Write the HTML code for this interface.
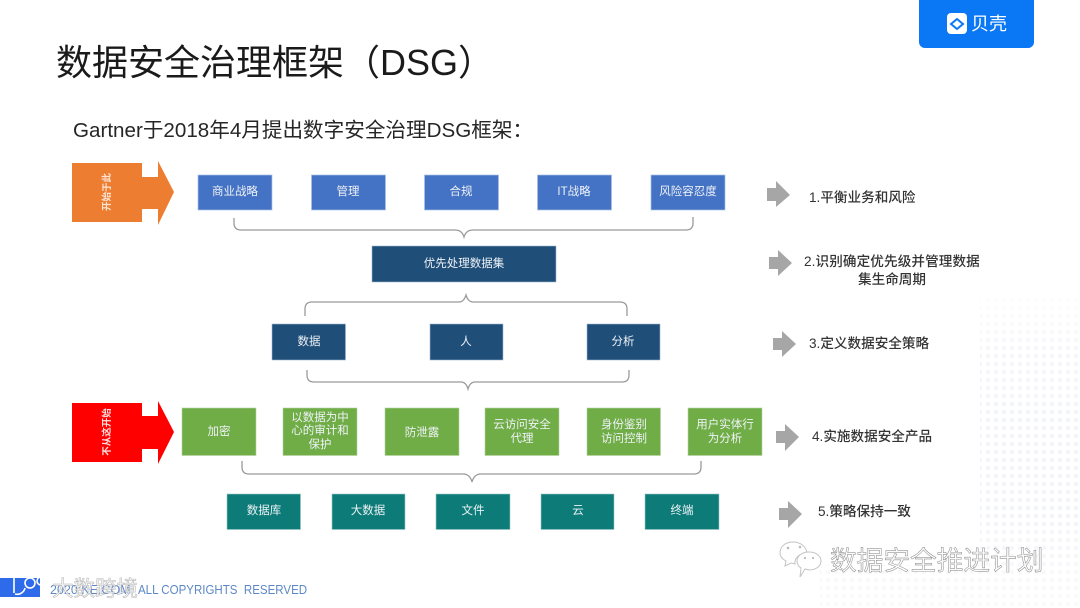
<!DOCTYPE html>
<html lang="zh"><head><meta charset="utf-8"><style>
html,body{margin:0;padding:0;background:#fff;width:1080px;height:608px;overflow:hidden}
svg{display:block}
text{font-family:"Liberation Sans","Noto Sans CJK SC",sans-serif}
.b{font-size:11.5px;fill:#eef2f6;text-anchor:middle}
.r{font-size:13.6px;fill:#333;font-weight:500}
.br{fill:none;stroke:#9a9a9a;stroke-width:1.3}
</style></head><body>
<svg width="1080" height="608" viewBox="0 0 1080 608" xmlns="http://www.w3.org/2000/svg">
<defs>
<pattern id="dots" width="8" height="8" patternUnits="userSpaceOnUse"><rect x="2" y="2" width="4" height="4" rx="1.500" fill="#eef1f5"/></pattern>
<linearGradient id="fade" x1="0" y1="0" x2="0" y2="1"><stop offset="0" stop-color="#fff" stop-opacity="0.9"/><stop offset="0.2" stop-color="#fff" stop-opacity="0.3"/><stop offset="0.7" stop-color="#fff" stop-opacity="0.2"/><stop offset="1" stop-color="#fff" stop-opacity="0.7"/></linearGradient>
</defs>
<rect width="1080" height="608" fill="#fff"/>
<polygon points="980,295 1080,295 1080,608 820,608 820,565 980,565" fill="url(#dots)"/>
<polygon points="980,295 1080,295 1080,608 820,608 820,565 980,565" fill="url(#fade)"/>

<!-- logo -->
<path d="M919 0H1034V42a6 6 0 0 1-6 6H925a6 6 0 0 1-6-6Z" fill="#0a78f5"/>
<rect x="947" y="13" width="20" height="21" rx="4" fill="#fff"/>
<path d="M951 24l6-5 6 5-6 5Z" fill="none" stroke="#0a78f5" stroke-width="2"/>
<text x="971" y="30" font-size="18" fill="#fff">贝壳</text>

<!-- titles -->
<text x="56" y="75" font-size="36" fill="#1a1a1a">数据安全治理框架（DSG）</text>
<text x="73" y="137" font-size="20.600" fill="#262626">Gartner于2018年4月提出数字安全治理DSG框架：</text>

<!-- big arrows -->
<polygon points="72,163 142,163 142,177 158,177 158,161 174,192 158,225 158,209 142,209 142,222 72,222" fill="#ed7d31"/>
<text transform="translate(110,192) rotate(-90)" font-size="9.500" font-weight="700" fill="#fbe6d6" text-anchor="middle">开始于此</text>
<polygon points="72,403 142,403 142,416 158,416 158,401 174,432 158,464 158,449 142,449 142,462 72,462" fill="#fe0000"/>
<text transform="translate(110,432) rotate(-90)" font-size="9.500" font-weight="700" fill="#fde0e0" text-anchor="middle">不从这开始</text>

<!-- row 1 -->
<g fill="#4472c4" stroke="#a9c0e6" stroke-width=".7">
<rect x="198" y="175" width="74" height="35"/><rect x="311.500" y="175" width="74" height="35"/><rect x="424.500" y="175" width="74" height="35"/><rect x="537.500" y="175" width="74" height="35"/><rect x="651" y="175" width="74" height="35"/>
</g>
<text class="b" x="235" y="195">商业战略</text><text class="b" x="348" y="195">管理</text><text class="b" x="461" y="195">合规</text><text class="b" x="574" y="195">IT战略</text><text class="b" x="688" y="195">风险容忍度</text>

<!-- brackets -->
<path class="br" d="M234 218v5q0 7 7 7H455q7 0 9 7q2-7 9-7H686q7 0 7-7v-6"/>
<path class="br" d="M305 316v-7q0-7 7-7H459q5 0 7-7q2 7 7 7H620q7 0 7 7v7"/>
<path class="br" d="M307 370v5q0 7 7 7H461q5 0 7 7q2-7 7-7H622q7 0 7-7v-5"/>
<path class="br" d="M242 461v6q0 7 7 7H463q7 0 9 8q2-8 9-8H694q7 0 7-7v-6"/>

<!-- row 2 -->
<rect x="372" y="246" width="184" height="36" fill="#1f4e79" stroke="#9db6d0" stroke-width=".6"/>
<text class="b" x="464" y="267">优先处理数据集</text>

<!-- row 3 -->
<g fill="#1f4e79" stroke="#9db6d0" stroke-width=".6">
<rect x="272" y="324" width="73.500" height="36"/><rect x="430" y="324" width="73" height="36"/><rect x="587" y="324" width="73" height="36"/>
</g>
<text class="b" x="309" y="345">数据</text><text class="b" x="466" y="345">人</text><text class="b" x="623" y="345">分析</text>

<!-- row 4 -->
<g fill="#70ad47" stroke="#b5d3a0" stroke-width=".6">
<rect x="182" y="408" width="74" height="47.500"/><rect x="283" y="408" width="74" height="47.500"/><rect x="385" y="408" width="74" height="47.500"/><rect x="485" y="408" width="74" height="47.500"/><rect x="587" y="408" width="73.500" height="47.500"/><rect x="688" y="408" width="74" height="47.500"/>
</g>
<text class="b" x="219" y="435">加密</text>
<text class="b" x="320" y="421">以数据为中</text><text class="b" x="320" y="434">心的审计和</text><text class="b" x="320" y="448">保护</text>
<text class="b" x="422" y="436">防泄露</text>
<text class="b" x="522" y="428">云访问安全</text><text class="b" x="522" y="442">代理</text>
<text class="b" x="624" y="428">身份鉴别</text><text class="b" x="624" y="442">访问控制</text>
<text class="b" x="725" y="428">用户实体行</text><text class="b" x="725" y="442">为分析</text>

<!-- row 5 -->
<g fill="#0d7c78" stroke="#9cc7c5" stroke-width=".6">
<rect x="227" y="494" width="73.500" height="35.500"/><rect x="332" y="494" width="73" height="35.500"/><rect x="436" y="494" width="74" height="35.500"/><rect x="541" y="494" width="73" height="35.500"/><rect x="645" y="494" width="74" height="35.500"/>
</g>
<text class="b" x="264" y="514">数据库</text><text class="b" x="368" y="514">大数据</text><text class="b" x="473" y="514">文件</text><text class="b" x="578" y="514">云</text><text class="b" x="682" y="514">终端</text>

<!-- gray arrows -->
<g fill="#a6a6a6">
<polygon points="767,188 776,188 776,181 790,195 776,207 776,201 767,201"/>
<polygon points="769,257 778,257 778,250 792,263 778,276 778,269 769,269"/>
<polygon points="773,338 782,338 782,331 796,344 782,357 782,350 773,350"/>
<polygon points="776,431 785,431 785,424 799,437 785,451 785,443 776,443"/>
<polygon points="779,508 788,508 788,501 802,514 788,528 788,520 779,520"/>
</g>
<text class="r" x="809" y="202">1.平衡业务和风险</text>
<text class="r" x="804" y="266" letter-spacing=".1">2.识别确定优先级并管理数据</text>
<text class="r" x="892" y="284" text-anchor="middle">集生命周期</text>
<text class="r" x="809" y="348">3.定义数据安全策略</text>
<text class="r" x="812" y="441">4.实施数据安全产品</text>
<text class="r" x="818" y="516">5.策略保持一致</text>

<!-- footer -->
<rect x="0" y="578" width="40" height="19" fill="#2e6bea"/>
<text x="50" y="594" font-size="12.500" fill="#5d88c8">2020 KE.COM</text>
<text transform="translate(138,594) scale(.923,1)" font-size="12.500" fill="#5d88c8" xml:space="preserve">ALL COPYRIGHTS  RESERVED</text>
<text x="52" y="596" font-size="21.500" fill="#f4f4f4" stroke="#a5a5a5" stroke-width=".5" opacity=".85">大数跨境</text>
<g fill="none" stroke="#fff" stroke-width="1.600"><circle cx="30" cy="583" r="5"/><circle cx="41" cy="581" r="4"/><path d="M14 577v16"/><path d="M25 588a8 8 0 0 1-10 6"/></g>

<!-- wechat watermark -->
<g fill="#fff" stroke="#c4c4c4" stroke-width="1">
<path d="M780 553c0-7 6-11 13-11s13 4 14 11c-7 0-13 5-12 11l-4-1-6 3 1-5c-4-2-6-5-6-8Z"/>
<path d="M797 561c0-5 5-9 12-9s12 4 12 9-5 9-12 9l-4-1-5 8 1-9c-3-2-4-4-4-7Z"/>
</g>
<g fill="#bbb"><circle cx="788" cy="548" r="1.300"/><circle cx="800" cy="547" r="1.300"/><circle cx="805" cy="558" r="1.100"/><circle cx="813" cy="558" r="1.100"/></g>
<text x="830" y="570" font-size="26.700" fill="#fbfbfb" stroke="#7d7d7d" stroke-width=".45">数据安全推进计划</text>
</svg>
</body></html>
